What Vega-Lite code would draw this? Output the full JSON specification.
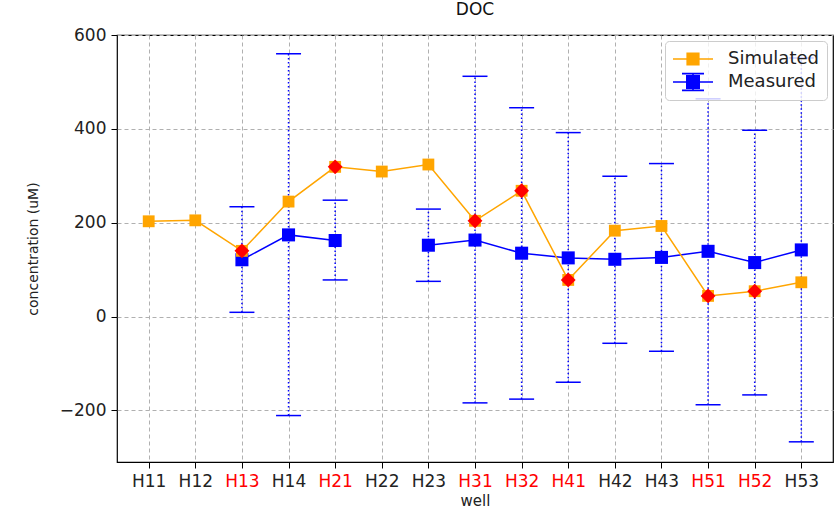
{
  "$schema": "https://vega.github.io/schema/vega-lite/v6.json",
  "width": 716,
  "height": 427,
  "autosize": "none",
  "padding": {"left": 117, "top": 35, "right": 2, "bottom": 53},
  "title": {"text": "DOC", "fontSize": 17, "font": "DejaVu Sans", "fontWeight": "normal", "color": "#111", "offset": 7},
  "datasets": {
    "wells": [
      {"well": "H11", "sim": 203, "meas": null, "lo": null, "hi": null, "red": false},
      {"well": "H12", "sim": 205, "meas": null, "lo": null, "hi": null, "red": false},
      {"well": "H13", "sim": 140, "meas": 121, "lo": 9, "hi": 234, "red": true},
      {"well": "H14", "sim": 245, "meas": 174, "lo": -211, "hi": 560, "red": false},
      {"well": "H21", "sim": 319, "meas": 162, "lo": 78, "hi": 248, "red": true},
      {"well": "H22", "sim": 309, "meas": null, "lo": null, "hi": null, "red": false},
      {"well": "H23", "sim": 324, "meas": 152, "lo": 75, "hi": 229, "red": false},
      {"well": "H31", "sim": 204, "meas": 163, "lo": -184, "hi": 512, "red": true},
      {"well": "H32", "sim": 268, "meas": 135, "lo": -176, "hi": 445, "red": true},
      {"well": "H41", "sim": 78, "meas": 125, "lo": -140, "hi": 392, "red": true},
      {"well": "H42", "sim": 183, "meas": 122, "lo": -57, "hi": 299, "red": false},
      {"well": "H43", "sim": 193, "meas": 126, "lo": -74, "hi": 326, "red": false},
      {"well": "H51", "sim": 44, "meas": 139, "lo": -188, "hi": 464, "red": true},
      {"well": "H52", "sim": 54, "meas": 115, "lo": -167, "hi": 397, "red": true},
      {"well": "H53", "sim": 73, "meas": 142, "lo": -267, "hi": 551, "red": false}
    ],
    "legend": [{"series": "Simulated"}, {"series": "Measured"}]
  },
  "data": {"name": "wells"},
  "config": {
    "font": "DejaVu Sans",
    "view": {"stroke": "#000", "strokeWidth": 1.2},
    "axis": {
      "grid": true,
      "gridColor": "#b0b0b0",
      "gridDash": [4, 3],
      "gridWidth": 1,
      "domain": false,
      "tickColor": "#000",
      "tickSize": 6,
      "labelFont": "DejaVu Sans",
      "labelFontSize": 17,
      "labelColor": "#222",
      "titleFont": "DejaVu Sans",
      "titleFontWeight": "normal",
      "titleColor": "#222"
    }
  },
  "encoding": {
    "x": {
      "field": "well",
      "type": "ordinal",
      "scale": {"type": "point", "padding": 0.68},
      "axis": {
        "title": "well",
        "titleFontSize": 15,
        "titlePadding": 4,
        "labelAngle": 0,
        "labelPadding": 5,
        "labelColor": {
          "condition": {"test": "indexof(['H13','H21','H31','H32','H41','H51','H52'], datum.value) >= 0", "value": "red"},
          "value": "#222"
        }
      }
    }
  },
  "layer": [
    {
      "mark": {"type": "rule", "color": "blue", "strokeWidth": 1.5, "strokeDash": [1.5, 2.5]},
      "encoding": {
        "y": {"field": "lo", "type": "quantitative", "scale": {"domain": [-310, 600], "nice": false, "zero": false},
              "axis": {"values": [-200, 0, 200, 400, 600], "title": "concentration (uM)", "titleFontSize": 14, "titlePadding": 19, "labelPadding": 5}},
        "y2": {"field": "hi"}
      }
    },
    {
      "mark": {"type": "tick", "color": "blue", "size": 25, "thickness": 1.5, "opacity": 1},
      "encoding": {"y": {"field": "lo", "type": "quantitative"}}
    },
    {
      "mark": {"type": "tick", "color": "blue", "size": 25, "thickness": 1.5, "opacity": 1},
      "encoding": {"y": {"field": "hi", "type": "quantitative"}}
    },
    {
      "mark": {"type": "line", "color": "blue", "strokeWidth": 1.5, "invalid": "break-paths-show-domains"},
      "encoding": {"y": {"field": "meas", "type": "quantitative"}}
    },
    {
      "mark": {"type": "point", "shape": "square", "filled": true, "color": "blue", "size": 170, "opacity": 1},
      "encoding": {"y": {"field": "meas", "type": "quantitative"}}
    },
    {
      "mark": {"type": "line", "color": "orange", "strokeWidth": 1.5},
      "encoding": {"y": {"field": "sim", "type": "quantitative"}}
    },
    {
      "mark": {"type": "point", "shape": "square", "filled": true, "color": "orange", "size": 140, "opacity": 1},
      "encoding": {"y": {"field": "sim", "type": "quantitative"}}
    },
    {
      "transform": [{"filter": "datum.red"}],
      "mark": {"type": "point", "shape": "diamond", "filled": true, "color": "red", "size": 220, "opacity": 1},
      "encoding": {"y": {"field": "sim", "type": "quantitative"}}
    },
    {
      "data": {"name": "legend"},
      "mark": {"type": "point", "filled": true, "clip": true, "opacity": 1},
      "encoding": {
        "x": {"datum": "H11", "type": "ordinal"},
        "y": {"datum": -1000, "type": "quantitative"},
        "color": {
          "field": "series", "type": "nominal",
          "scale": {"domain": ["Simulated", "Measured"], "range": ["orange", "blue"]},
          "legend": {
            "title": null,
            "orient": "top-right",
            "offset": 6,
            "symbolSize": 400,
            "symbolOffset": 10,
            "labelFontSize": 18,
            "labelFont": "DejaVu Sans",
            "labelColor": "#222",
            "labelOffset": 25,
            "padding": 8,
            "rowPadding": 4,
            "fillColor": "rgba(255,255,255,0.8)",
            "strokeColor": "#cccccc",
            "cornerRadius": 4,
            "symbolStrokeWidth": 0
          }
        },
        "shape": {
          "field": "series", "type": "nominal",
          "scale": {"domain": ["Simulated", "Measured"], "range": [
            "M-2,-0.08H2V0.08H-2Z M-0.66,-0.66H0.66V0.66H-0.66Z",
            "M-2,-0.08H2V0.08H-2Z M-0.7,-0.7H0.7V0.7H-0.7Z M-0.08,-0.84H0.08V0.84H-0.08Z M-1.1,-0.92H1.1V-0.76H-1.1Z M-1.1,0.76H1.1V0.92H-1.1Z"
          ]},
          "legend": null
        }
      }
    }
  ]
}
